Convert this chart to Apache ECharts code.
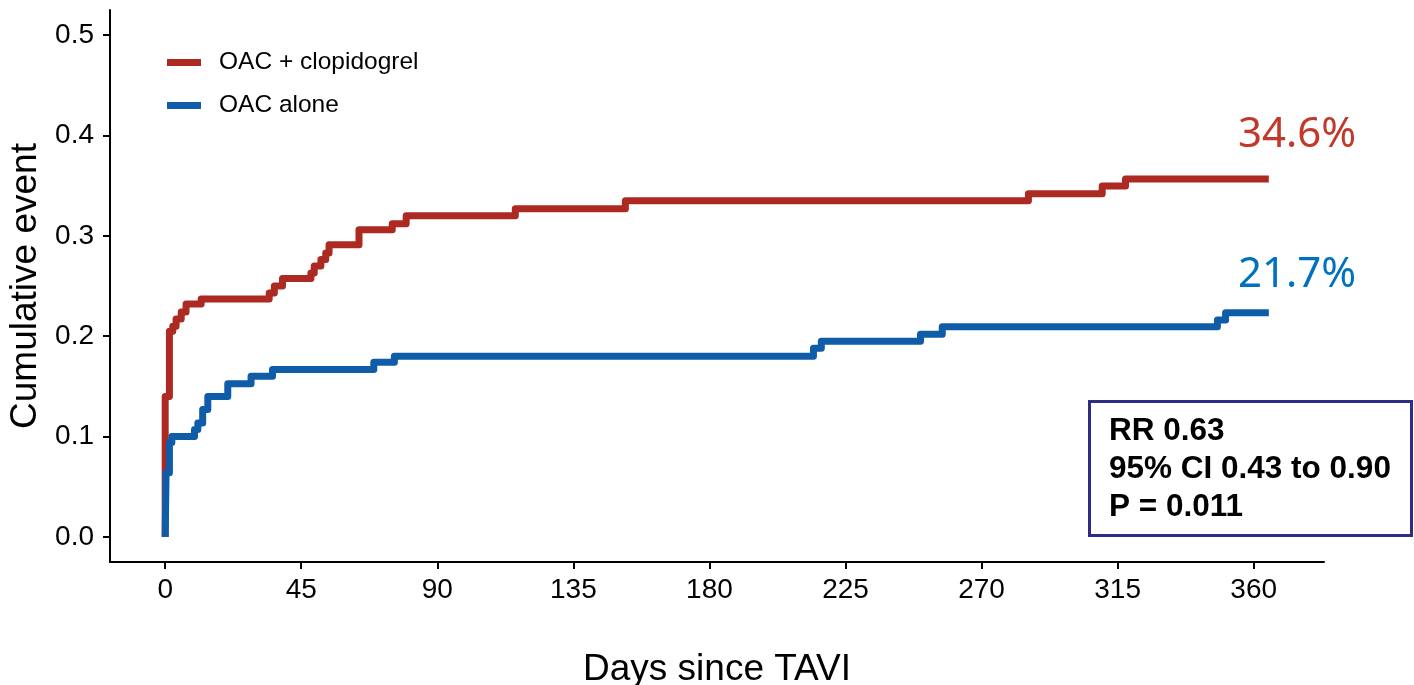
<!DOCTYPE html>
<html>
<head>
<meta charset="utf-8">
<script src="https://cdn.jsdelivr.net/npm/echarts@6/dist/echarts.min.js"></script>
<style>
  html, body { margin: 0; padding: 0; background: #ffffff; }
  #chart { width: 1414px; height: 685px; }
</style>
</head>
<body>
<div id="chart"></div>
<script>
// ---- Data ----
const seriesNames = ["OAC + clopidogrel", "OAC alone"];

const redDays   = [0, 0,    1.4,   2.5,   3.6,   5.3,   6.9,   11.9,  34.4,  36.1,  38.8,   48.2,  49.3,  51.5,   53.1,  54.2,  64.1,  75.1,  79.7,  115.8, 152.2, 285.5, 309.9, 317.6, 365];
const redRisk   = [0, 0.14, 0.205, 0.210, 0.217, 0.224, 0.232, 0.237, 0.243, 0.250, 0.2575, 0.263, 0.270, 0.2765, 0.283, 0.291, 0.306, 0.312, 0.320, 0.327, 0.335, 0.342, 0.3496, 0.3566, 0.3566];

const blueDays  = [0, 0.3,   1.4,   2.2,   9.7,   10.8,   12.4,  14.1,  20.7,   28.4,  35.5,   69,    75.8,  214.4, 217,   249.8, 257,    348,   350.7,  365];
const blueRisk  = [0, 0.064, 0.094, 0.100, 0.107, 0.1136, 0.127, 0.140, 0.1525, 0.160, 0.1668, 0.174, 0.180, 0.188, 0.195, 0.202, 0.2095, 0.216, 0.2234, 0.2234];

const xTicks = [0, 45, 90, 135, 180, 225, 270, 315, 360];
const yTicks = [0, 0.1, 0.2, 0.3, 0.4, 0.5];

const endLabels = ["34.6%", "21.7%"];
const statLines = ["RR 0.63", "95% CI 0.43 to 0.90", "P = 0.011"];

const colors = ["#AD2A23", "#0F5DA8"];
const labelColors = ["#C0392B", "#0070C0"];

function pairs(xs, ys) { return xs.map((x, i) => [x, ys[i]]); }

const chart = echarts.init(document.getElementById('chart'), null, { renderer: 'canvas' });
const FONT = '"Liberation Sans", Arial, sans-serif';

const option = {
  animation: false,
  backgroundColor: '#ffffff',
  grid: { left: 110, right: 90, top: 10, bottom: 123, containLabel: false, outerBoundsMode: 'none' },
  legend: {
    orient: 'vertical',
    left: 167, top: 50,
    padding: 0,
    icon: 'rect',
    itemWidth: 34, itemHeight: 7,
    itemGap: 18,
    textStyle: { fontFamily: FONT, fontSize: 24.5, color: '#000', padding: [0, 0, 0, 13] },
    data: seriesNames
  },
  xAxis: {
    type: 'value',
    min: -18.25, max: 383.25,
    name: 'Days since TAVI',
    nameLocation: 'middle',
    nameGap: 89,
    nameTextStyle: { fontFamily: FONT, fontSize: 37, color: '#000' },
    axisLine: { show: true, onZero: false, lineStyle: { color: '#000', width: 2 } },
    axisTick: { show: true, length: 7, lineStyle: { color: '#000', width: 2 }, customValues: xTicks },
    axisLabel: { fontFamily: FONT, fontSize: 28, color: '#000', margin: 14, customValues: xTicks },
    splitLine: { show: false }
  },
  yAxis: {
    type: 'value',
    min: -0.025, max: 0.525,
    name: 'Cumulative event',
    nameLocation: 'middle',
    nameGap: 60,
    nameTextStyle: { fontFamily: FONT, fontSize: 37, color: '#000' },
    axisLine: { show: true, onZero: false, lineStyle: { color: '#000', width: 2 } },
    axisTick: { show: true, length: 7, lineStyle: { color: '#000', width: 2 }, customValues: yTicks },
    axisLabel: { fontFamily: FONT, fontSize: 28, color: '#000', margin: 16, customValues: yTicks,
                 formatter: v => Number(v).toFixed(1) },
    splitLine: { show: false }
  },
  series: [
    {
      name: seriesNames[0], type: 'line', step: 'end', showSymbol: false, symbol: 'none',
      data: pairs(redDays, redRisk),
      itemStyle: { color: colors[0] },
      lineStyle: { color: colors[0], width: 7, join: 'round' }
    },
    {
      name: seriesNames[1], type: 'line', step: 'end', showSymbol: false, symbol: 'none',
      data: pairs(blueDays, blueRisk),
      itemStyle: { color: colors[1] },
      lineStyle: { color: colors[1], width: 7, join: 'round' }
    }
  ],
  graphic: [
    { type: 'text', left: 1238, top: 114, style: { text: endLabels[0], fontFamily: '"Noto Sans", sans-serif', fontSize: 42, fill: labelColors[0] } },
    { type: 'text', left: 1238, top: 254, style: { text: endLabels[1], fontFamily: '"Noto Sans", sans-serif', fontSize: 42, fill: labelColors[1] } },
    { type: 'rect', left: 1088, top: 400, shape: { width: 322, height: 134 },
      style: { fill: '#ffffff', stroke: '#2E2C86', lineWidth: 3 } },
    { type: 'text', left: 1109, top: 415, style: { text: statLines[0], fontFamily: FONT, fontWeight: 'bold', fontSize: 31.5, fill: '#000' } },
    { type: 'text', left: 1109, top: 453, style: { text: statLines[1], fontFamily: FONT, fontWeight: 'bold', fontSize: 31.5, fill: '#000' } },
    { type: 'text', left: 1109, top: 491, style: { text: statLines[2], fontFamily: FONT, fontWeight: 'bold', fontSize: 31.5, fill: '#000' } }
  ]
};
chart.setOption(option);
</script>
</body>
</html>
